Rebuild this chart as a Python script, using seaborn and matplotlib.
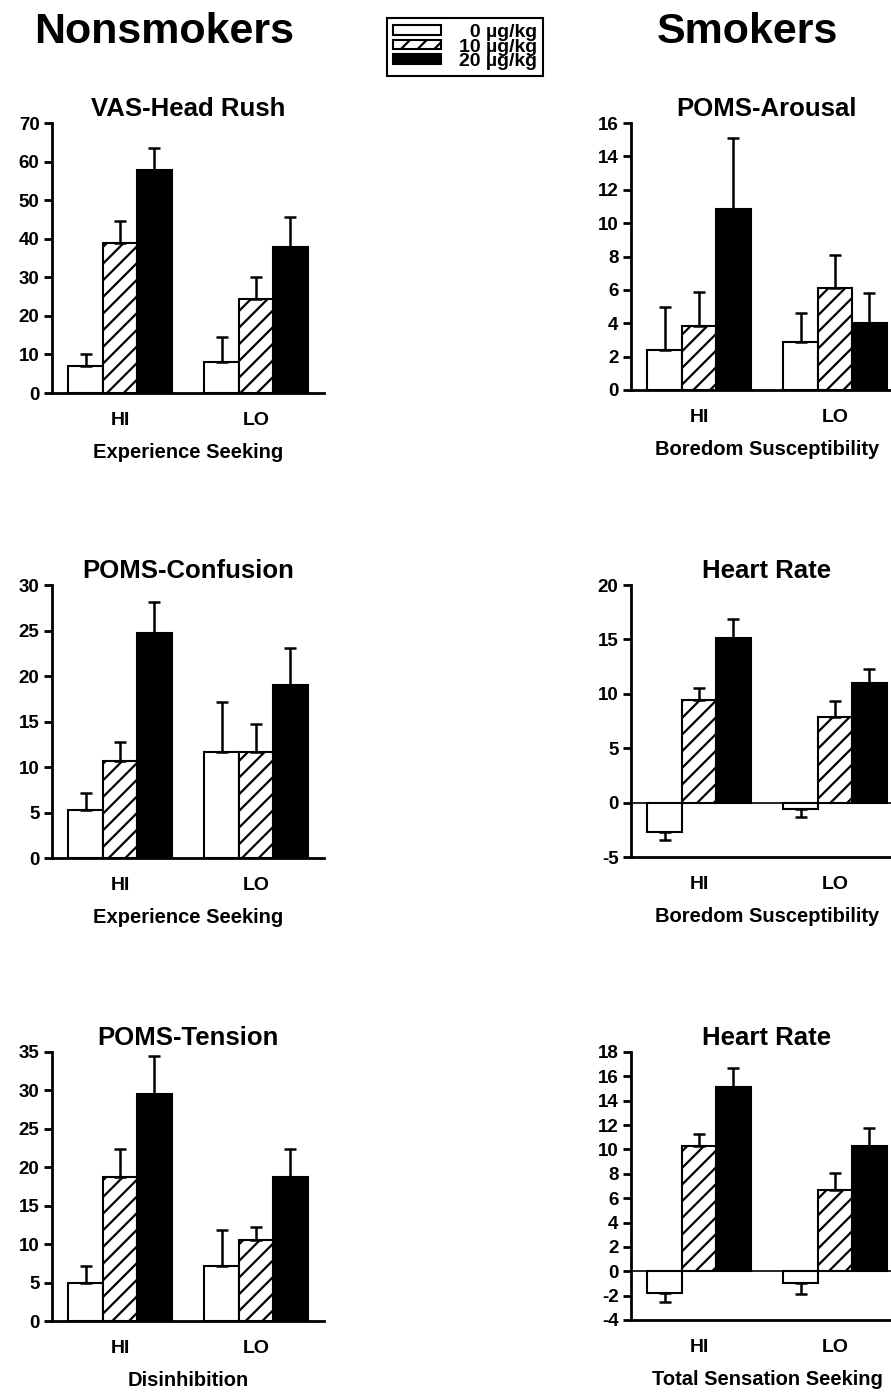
# Nicotine dose effects by sensation-seeking group, nonsmokers vs smokers
import matplotlib
matplotlib.use('Agg')
import matplotlib.pyplot as plt
from matplotlib.patches import Patch
import pandas as pd
import seaborn as sns

# categories
groups = ['HI', 'LO']
doses = ['0 µg/kg', '10 µg/kg', '20 µg/kg']

# values (order: 0, 10, 20 µg/kg)
head_rush_hi = [7.0, 39.0, 57.7]
head_rush_lo = [8.0, 24.5, 37.9]
head_rush_hi_sem = [3.0, 5.7, 5.7]
head_rush_lo_sem = [6.5, 5.5, 7.8]

confusion_hi = [5.3, 10.7, 24.7]
confusion_lo = [11.6, 11.6, 19.0]
confusion_hi_sem = [1.8, 2.0, 3.4]
confusion_lo_sem = [5.5, 3.1, 4.1]

tension_hi = [4.9, 18.8, 29.5]
tension_lo = [7.2, 10.5, 18.7]
tension_hi_sem = [2.2, 3.6, 5.0]
tension_lo_sem = [4.6, 1.7, 3.7]

arousal_hi = [2.4, 3.85, 10.85]
arousal_lo = [2.9, 6.1, 4.0]
arousal_hi_sem = [2.6, 2.05, 4.25]
arousal_lo_sem = [1.7, 2.0, 1.8]

hr_bs_hi = [-2.7, 9.4, 15.1]
hr_bs_lo = [-0.55, 7.9, 11.0]
hr_bs_hi_sem = [0.75, 1.1, 1.8]
hr_bs_lo_sem = [0.75, 1.4, 1.3]

hr_tss_hi = [-1.8, 10.25, 15.1]
hr_tss_lo = [-1.0, 6.7, 10.25]
hr_tss_hi_sem = [0.75, 1.05, 1.6]
hr_tss_lo_sem = [0.9, 1.4, 1.5]

# y tick labels for each panel
head_rush_ticks = [0, 10, 20, 30, 40, 50, 60, 70]
confusion_ticks = [0, 5, 10, 15, 20, 25, 30]
tension_ticks = [0, 5, 10, 15, 20, 25, 30, 35]
arousal_ticks = [0, 2, 4, 6, 8, 10, 12, 14, 16]
hr_bs_ticks = [-5, 0, 5, 10, 15, 20]
hr_tss_ticks = [-4, -2, 0, 2, 4, 6, 8, 10, 12, 14, 16, 18]

sns.set_style('ticks')
plt.rcParams['font.family'] = ['Liberation Sans', 'DejaVu Sans']
plt.rcParams['font.weight'] = 'bold'
plt.rcParams['hatch.linewidth'] = 1.6
plt.rcParams['axes.unicode_minus'] = False
for key in ['text.color', 'axes.labelcolor', 'xtick.color', 'ytick.color', 'axes.edgecolor']:
    plt.rcParams[key] = 'black'

colors = {doses[0]: 'white', doses[1]: 'white', doses[2]: 'black'}
hatches = {doses[0]: '', doses[1]: '//', doses[2]: ''}

W, H = 891, 1395


def draw_panel(fig, rect, title, xlabel, hi, lo, hi_sem, lo_sem, yticks):
    ax = fig.add_axes(rect)
    df = pd.DataFrame({'Group': ['HI'] * 3 + ['LO'] * 3,
                       'Dose': doses * 2,
                       'Change': hi + lo})
    sns.barplot(df, x='Group', y='Change', hue='Dose',
                order=groups, hue_order=doses, palette=colors,
                edgecolor='black', linewidth=1.5, width=0.76, gap=0,
                errorbar=None, legend=False, ax=ax)
    sems = {'HI': hi_sem, 'LO': lo_sem}
    # hatch and one-sided error bars, positions taken from the drawn bars
    for i, (container, dose) in enumerate(zip(ax.containers, doses)):
        for bar, g in zip(container, groups):
            bar.set_hatch(hatches[dose])
            x = bar.get_x() + bar.get_width() / 2
            v = bar.get_y() + bar.get_height()
            e = sems[g][i]
            yerr = [[0], [e]] if v >= 0 else [[e], [0]]
            ax.errorbar([x], [v], yerr=yerr, fmt='none', ecolor='black',
                        elinewidth=1.8, capsize=4, capthick=1.8, zorder=3)
    if yticks[0] < 0:
        ax.axhline(0, color='black', lw=1.2, zorder=0.5)
    ax.set_xlim(-0.5, 1.5)
    ax.set_ylim(yticks[0], yticks[-1])
    ax.set_yticks(yticks)
    sns.despine(ax=ax)
    ax.spines['left'].set_linewidth(2)
    ax.spines['bottom'].set_linewidth(2)
    ax.tick_params(axis='y', length=6, width=2, direction='out',
                   labelsize=13.5, pad=3)
    ax.tick_params(axis='x', length=0, labelsize=14, pad=14)
    ax.set_title(title, fontsize=18.5, fontweight='bold', pad=5)
    ax.set_xlabel(xlabel, fontsize=14.5, fontweight='bold', labelpad=10)
    ax.set_ylabel('')
    return ax


def rect(x0, x1, y_top, y_bot):
    return [x0 / W, 1 - y_bot / H, (x1 - x0) / W, (y_bot - y_top) / H]


fig = plt.figure(figsize=(8.91, 13.95), dpi=100)

draw_panel(fig, rect(52, 324, 123, 393), 'VAS-Head Rush', 'Experience Seeking',
           head_rush_hi, head_rush_lo, head_rush_hi_sem, head_rush_lo_sem, head_rush_ticks)
draw_panel(fig, rect(52, 324, 585, 858), 'POMS-Confusion', 'Experience Seeking',
           confusion_hi, confusion_lo, confusion_hi_sem, confusion_lo_sem, confusion_ticks)
draw_panel(fig, rect(52, 324, 1052, 1321), 'POMS-Tension', 'Disinhibition',
           tension_hi, tension_lo, tension_hi_sem, tension_lo_sem, tension_ticks)
draw_panel(fig, rect(631, 903, 123, 390), 'POMS-Arousal', 'Boredom Susceptibility',
           arousal_hi, arousal_lo, arousal_hi_sem, arousal_lo_sem, arousal_ticks)
draw_panel(fig, rect(631, 903, 585, 857), 'Heart Rate', 'Boredom Susceptibility',
           hr_bs_hi, hr_bs_lo, hr_bs_hi_sem, hr_bs_lo_sem, hr_bs_ticks)
draw_panel(fig, rect(631, 903, 1052, 1320), 'Heart Rate', 'Total Sensation Seeking',
           hr_tss_hi, hr_tss_lo, hr_tss_hi_sem, hr_tss_lo_sem, hr_tss_ticks)

# group headers
fig.text(164 / W, 1 - 43 / H, 'Nonsmokers', ha='center', va='baseline',
         fontsize=31, fontweight='bold')
fig.text(747 / W, 1 - 43 / H, 'Smokers', ha='center', va='baseline',
         fontsize=31, fontweight='bold')

# legend, labels padded with figure spaces so the numbers line up on the right
handles = [Patch(facecolor=colors[d], edgecolor='black', hatch=hatches[d], lw=1.5)
           for d in doses]
labels = ['\u2007' + doses[0], doses[1], doses[2]]
leg = fig.legend(handles, labels, loc='upper left',
                 bbox_to_anchor=(387 / W, 1 - 18 / H), frameon=True,
                 fancybox=False, edgecolor='black', framealpha=1,
                 prop={'weight': 'bold', 'size': 14},
                 handlelength=2.5, handleheight=0.4, labelspacing=-0.12,
                 borderpad=0.3, handletextpad=0.9, borderaxespad=0)
leg.get_frame().set_linewidth(1.5)

fig.savefig('out.png', dpi=100)
